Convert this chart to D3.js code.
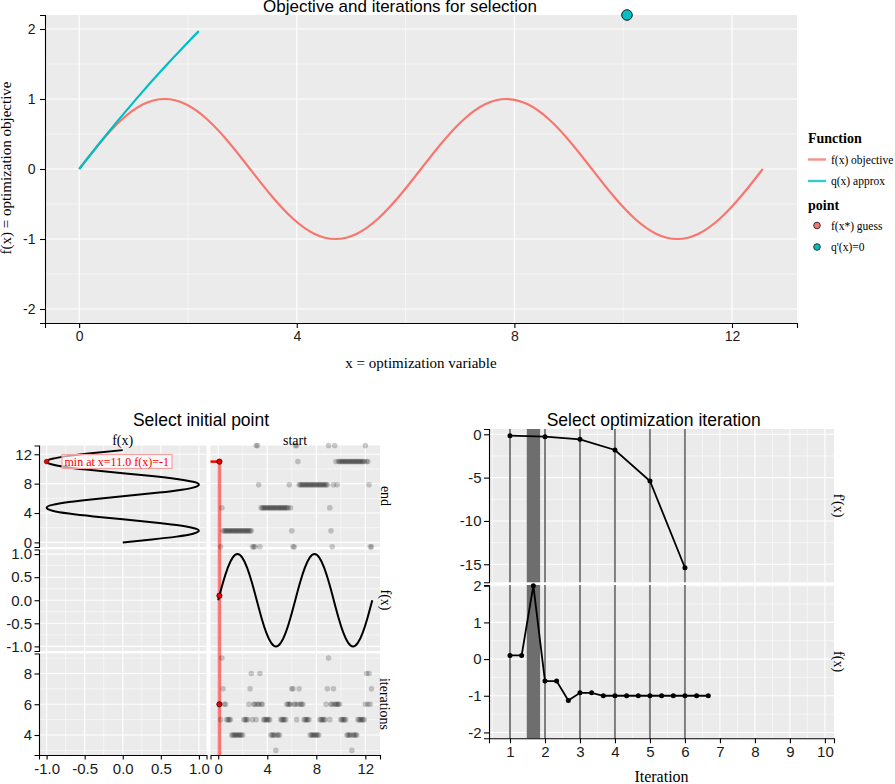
<!DOCTYPE html>
<html><head><meta charset="utf-8">
<script src="https://cdn.jsdelivr.net/npm/d3@7"></script>
<style>body{margin:0;background:#fff}svg{display:block}</style>
</head><body>
<svg id="chart" width="895" height="784"></svg>
<script>
// ---------------- DATA ----------------
// objective f(x) sampled at k*pi/8
const curveX = [0,0.393,0.785,1.178,1.571,1.963,2.356,2.749,3.142,3.534,3.927,4.320,4.712,5.105,5.498,5.890,6.283,6.676,7.069,7.461,7.854,8.247,8.639,9.032,9.425,9.817,10.210,10.603,10.996,11.388,11.781,12.174,12.566];
const curveF = [0,0.383,0.707,0.924,1,0.924,0.707,0.383,0,-0.383,-0.707,-0.924,-1,-0.924,-0.707,-0.383,0,0.383,0.707,0.924,1,0.924,0.707,0.383,0,-0.383,-0.707,-0.924,-1,-0.924,-0.707,-0.383,0];
// quadratic approximation q(x)
const approxX = [0,0.5,1.0,1.5,2.0,2.2];
const approxQ = [0,0.49,0.955,1.395,1.81,1.97];
// q'(x)=0 point
const stationX = 10.07, stationQ = 2.2;
// selection
const selStart = 0.1, selF = 0.1, selEnd = 11.0, selIter = 6;
const minLabel = "min at x=11.0 f(x)=-1";
const minF = -1, minX = 11.0;
// initial-point scan
const initStart = [0.1,0.2,0.3,0.4,0.5,0.6,0.7,0.8,0.9,1.0,
1.1,1.2,1.3,1.4,1.5,1.6,1.7,1.8,1.9,2.0,
2.1,2.2,2.3,2.4,2.5,2.6,2.7,2.8,2.9,3.0,
3.1,3.2,3.3,3.4,3.5,3.6,3.7,3.8,3.9,4.0,
4.1,4.2,4.3,4.4,4.5,4.6,4.7,4.8,4.9,5.0,
5.1,5.2,5.3,5.4,5.5,5.6,5.7,5.8,5.9,6.0,
6.1,6.2,6.3,6.4,6.5,6.6,6.7,6.8,6.9,7.0,
7.1,7.2,7.3,7.4,7.5,7.6,7.7,7.8,7.9,8.0,
8.1,8.2,8.3,8.4,8.5,8.6,8.7,8.8,8.9,9.0,
9.1,9.2,9.3,9.4,9.5,9.6,9.7,9.8,9.9,10.0,
10.1,10.2,10.3,10.4,10.5,10.6,10.7,10.8,10.9,11.0,
11.1,11.2,11.3,11.4,11.5,11.6,11.7,11.8,11.9,12.0,
12.1,12.2,12.3,12.4,12.5];
const initEnd = [11.0,-0.6,4.71,1.57,1.57,1.57,1.57,1.57,1.57,1.57,
1.57,1.57,1.57,1.57,1.57,1.57,1.57,1.57,1.57,1.57,
1.57,1.57,1.57,1.57,1.57,1.57,1.57,-0.6,-0.6,-0.6,
13.2,13.2,7.85,-0.6,4.71,4.71,4.71,4.71,4.71,4.71,
4.71,4.71,4.71,4.71,4.71,4.71,4.71,4.71,4.71,4.71,
4.71,4.71,4.71,4.71,4.71,4.71,4.71,7.85,4.71,1.57,
-0.6,-0.6,13.2,13.2,11.0,7.85,7.85,7.85,7.85,7.85,
7.85,7.85,7.85,7.85,7.85,7.85,7.85,7.85,7.85,7.85,
7.85,7.85,7.85,7.85,7.85,7.85,7.85,7.85,7.85,13.2,
4.71,1.57,-0.6,7.85,13.2,11.0,7.85,11.0,11.0,11.0,
11.0,11.0,11.0,11.0,11.0,11.0,11.0,11.0,11.0,11.0,
11.0,11.0,11.0,11.0,11.0,11.0,11.0,11.0,11.0,13.2,
11.0,11.0,7.85,-0.6,-0.6];
const initIter = [6,5,9,7,6,6,5,5,5,5,
4,4,4,4,4,4,4,4,4,4,
5,5,5,5,6,7,8,5,6,6,
5,6,6,8,6,6,5,5,5,5,
5,5,4,4,4,4,3,4,4,4,
5,5,5,5,5,6,6,6,6,7,
7,6,6,5,6,7,6,6,6,5,
5,5,5,5,4,4,4,4,4,4,
4,4,5,5,5,5,5,6,7,9,
5,6,6,7,6,6,6,6,6,5,
5,5,5,5,4,4,4,4,3,4,
4,4,4,5,5,5,5,5,5,6,
8,6,8,6,7];
// optimization iterations
const iterMarks = [1,2,3,4,5,6];
const gradY = [-0.16,-0.28,-0.58,-1.81,-5.39,-15.4];
const stepX = [1,1.333,1.667,2,2.333,2.667,3,3.333,3.667,4,4.333,4.667,5,5.333,5.667,6,6.333,6.667];
const stepF = [0.1,0.1,2.0,-0.6,-0.6,-1.13,-0.92,-0.92,-1,-1,-1,-1,-1,-1,-1,-1,-1,-1];
const selStep = [1.48, 1.86];

// ---------------- DRAW ----------------
const svg = d3.select("#chart");
const SANS = "'Liberation Sans', Arial, Helvetica, sans-serif";
const SERIF = "'Liberation Serif', 'Times New Roman', Times, serif";
const BG = "#EBEBEB", RED = "#F8766D", TEAL = "#00BFC4";

function panel(x, y, xMaj, xMin, yMaj, yMin) {
  const [x0, x1] = x.range(); const [y1, y0] = y.range();
  const g = svg.append("g");
  g.append("rect").attr("x", x0).attr("y", y0).attr("width", x1 - x0).attr("height", y1 - y0).attr("fill", BG);
  const vl = (arr, w) => g.selectAll(null).data(arr).join("line")
    .attr("x1", d => x(d)).attr("x2", d => x(d)).attr("y1", y0).attr("y2", y1)
    .attr("stroke", "#fff").attr("stroke-width", w);
  const hl = (arr, w) => g.selectAll(null).data(arr).join("line")
    .attr("y1", d => y(d)).attr("y2", d => y(d)).attr("x1", x0).attr("x2", x1)
    .attr("stroke", "#fff").attr("stroke-width", w);
  vl(xMin, 0.55); hl(yMin, 0.55); vl(xMaj, 1.1); hl(yMaj, 1.1);
  return g;
}
function styleAxis(g, size) {
  g.attr("font-family", SANS).attr("font-size", size);
  g.select(".domain").attr("stroke", "#000").attr("stroke-width", 1.1);
  g.selectAll(".tick line").attr("stroke", "#000").attr("stroke-width", 1.1);
  g.selectAll(".tick text").attr("fill", "#1a1a1a");
}
function leftAxis(scale, xpos, ticks, fmt, size, tl, pad) {
  const g = svg.append("g").attr("transform", `translate(${xpos},0)`)
    .call(d3.axisLeft(scale).tickValues(ticks).tickFormat(fmt).tickSize(tl).tickSizeOuter(tl).tickPadding(pad));
  styleAxis(g, size);
}
function bottomAxis(scale, ypos, ticks, fmt, size, tl, pad) {
  const g = svg.append("g").attr("transform", `translate(0,${ypos})`)
    .call(d3.axisBottom(scale).tickValues(ticks).tickFormat(fmt).tickSize(tl).tickSizeOuter(tl).tickPadding(pad));
  styleAxis(g, size);
}
function text(x, y, s, opts) {
  const t = svg.append("text").attr("x", x).attr("y", y).text(s)
    .attr("font-family", opts.family || SANS).attr("font-size", opts.size || 14)
    .attr("fill", opts.fill || "#000").attr("text-anchor", opts.anchor || "start");
  if (opts.weight) t.attr("font-weight", opts.weight);
  return t;
}
function vtext(x, y, s, angle, size) {
  svg.append("text").attr("transform", `translate(${x},${y}) rotate(${angle})`)
    .attr("text-anchor", "middle").attr("dominant-baseline", "central")
    .attr("font-family", SERIF).attr("font-size", size).text(s);
}
const fmtStr = d => String(d);
const fmt1 = d3.format(".1f");
const fmtH = d => fmt1(d).replace("\u2212", "-");
const fmtI = d => String(d).replace("\u2212", "-");

// ===== Top chart =====
const tx = d3.scaleLinear([-0.628, 13.195], [45, 797]);
const ty = d3.scaleLinear([-2.2, 2.2], [323, 15]);
panel(tx, ty, [0, 4, 8, 12], [2, 6, 10], [-2, -1, 0, 1, 2], [-1.5, -0.5, 0.5, 1.5]);
const lineF = d3.line().x((d, i) => tx(curveX[i])).y(d => ty(d)).curve(d3.curveNatural);
svg.append("path").attr("d", lineF(curveF)).attr("fill", "none").attr("stroke", RED).attr("stroke-width", 2.2);
const lineQ = d3.line().x((d, i) => tx(approxX[i])).y(d => ty(d)).curve(d3.curveNatural);
svg.append("path").attr("d", lineQ(approxQ)).attr("fill", "none").attr("stroke", TEAL).attr("stroke-width", 2.2);
leftAxis(ty, 45, [-2, -1, 0, 1, 2], fmtI, 14, 5, 4.5);
bottomAxis(tx, 323, [0, 4, 8, 12], fmtStr, 14, 5, 3.5);
svg.append("circle").attr("cx", tx(stationX)).attr("cy", ty(stationQ)).attr("r", 5.3)
  .attr("fill", TEAL).attr("stroke", "#1a1a1a").attr("stroke-width", 1);
text(400, 12, "Objective and iterations for selection", { size: 17, anchor: "middle" });
vtext(6, 168, "f(x) = optimization objective", -90, 15);
text(421, 368, "x = optimization variable", { family: SERIF, size: 15, anchor: "middle" });
// legend
text(808, 143, "Function", { family: SERIF, size: 14, weight: "bold" });
svg.append("line").attr("x1", 808).attr("x2", 826).attr("y1", 159.5).attr("y2", 159.5).attr("stroke", RED).attr("stroke-width", 2.4).attr("opacity", 0.8);
text(831, 163.5, "f(x) objective", { family: SERIF, size: 11.5 });
svg.append("line").attr("x1", 808).attr("x2", 826).attr("y1", 181).attr("y2", 181).attr("stroke", TEAL).attr("stroke-width", 2.4).attr("opacity", 0.8);
text(831, 185, "q(x) approx", { family: SERIF, size: 11.5 });
text(808, 209.5, "point", { family: SERIF, size: 14, weight: "bold" });
svg.append("circle").attr("cx", 817).attr("cy", 225.5).attr("r", 3.3).attr("fill", RED).attr("stroke", "#333");
text(831, 229.5, "f(x*) guess", { family: SERIF, size: 11.5 });
svg.append("circle").attr("cx", 817).attr("cy", 247).attr("r", 3.3).attr("fill", TEAL).attr("stroke", "#333");
text(831, 251, "q'(x)=0", { family: SERIF, size: 11.5 });

// ===== Bottom-left: Select initial point =====
const xL = d3.scaleLinear([-1.1, 1.1], [39, 206.5]);
const xR = d3.scaleLinear([-0.628, 13.195], [210.5, 380]);
const y1 = d3.scaleLinear([-0.628, 13.195], [547, 445.5]);
const y2 = d3.scaleLinear([-1.1, 1.1], [651, 549.5]);
const y3 = d3.scaleLinear([2.7, 9.3], [755, 653.5]);
const xLMaj = [-1, -0.5, 0, 0.5, 1], xLMin = [-0.75, -0.25, 0.25, 0.75];
const xRMaj = [0, 4, 8, 12], xRMin = [2, 6, 10];
const y1Maj = [0, 4, 8, 12], y1Min = [2, 6, 10];
const y2Maj = [-1, -0.5, 0, 0.5, 1], y2Min = [-0.75, -0.25, 0.25, 0.75];
const y3Maj = [4, 6, 8], y3Min = [3, 5, 7, 9];
panel(xL, y1, xLMaj, xLMin, y1Maj, y1Min);
panel(xR, y1, xRMaj, xRMin, y1Maj, y1Min);
panel(xL, y2, xLMaj, xLMin, y2Maj, y2Min);
panel(xR, y2, xRMaj, xRMin, y2Maj, y2Min);
panel(xL, y3, xLMaj, xLMin, y3Maj, y3Min);
panel(xR, y3, xRMaj, xRMin, y3Maj, y3Min);

// selection band
svg.append("line").attr("x1", xR(selStart)).attr("x2", xR(selStart)).attr("y1", y1(selEnd)).attr("y2", y3.range()[0])
  .attr("stroke", "#ff0000").attr("stroke-opacity", 0.5).attr("stroke-width", 3.5);
// top-left: rotated objective
const lineRot = d3.line().x(d => xL(d)).y((d, i) => y1(curveX[i])).curve(d3.curveNatural);
svg.append("path").attr("d", lineRot(curveF)).attr("fill", "none").attr("stroke", "#000").attr("stroke-width", 2);
svg.append("circle").attr("cx", xL(minF)).attr("cy", y1(minX)).attr("r", 2.4).attr("fill", "#e00").attr("stroke", "#600").attr("stroke-width", 0.6);
svg.append("rect").attr("x", 62).attr("y", 454.5).attr("width", 110).attr("height", 14).attr("fill", "#fff").attr("fill-opacity", 0.65)
  .attr("stroke", "#F4A3A3").attr("stroke-width", 1.2);
text(64.5, 465.5, minLabel, { family: SERIF, size: 12, fill: "#f00" });
// start vs end
svg.append("line").attr("x1", xR.range()[0]).attr("x2", xR(selStart)).attr("y1", y1(selEnd)).attr("y2", y1(selEnd))
  .attr("stroke", "#f00").attr("stroke-width", 2.5);
svg.append("g").selectAll("circle").data(initStart).join("circle")
  .attr("cx", d => xR(d)).attr("cy", (d, i) => y1(initEnd[i])).attr("r", 2.8).attr("fill", "#000").attr("fill-opacity", 0.2);
svg.append("circle").attr("cx", xR(selStart)).attr("cy", y1(selEnd)).attr("r", 2.6).attr("fill", "#e00").attr("stroke", "#300").attr("stroke-width", 0.8);
// f(x) curve
const lineR = d3.line().x((d, i) => xR(curveX[i])).y(d => y2(d)).curve(d3.curveNatural);
svg.append("path").attr("d", lineR(curveF)).attr("fill", "none").attr("stroke", "#000").attr("stroke-width", 2);
svg.append("circle").attr("cx", xR(selStart)).attr("cy", y2(selF)).attr("r", 2.6).attr("fill", "#e00").attr("stroke", "#300").attr("stroke-width", 0.8);
// start vs iterations
svg.append("g").selectAll("circle").data(initStart).join("circle")
  .attr("cx", d => xR(d)).attr("cy", (d, i) => y3(initIter[i])).attr("r", 2.8).attr("fill", "#000").attr("fill-opacity", 0.2);
svg.append("circle").attr("cx", xR(selStart)).attr("cy", y3(selIter)).attr("r", 2.6).attr("fill", "#e00").attr("stroke", "#300").attr("stroke-width", 0.8);
// axes
leftAxis(y1, 39, y1Maj, fmtStr, 15, 4.5, 2.5);
leftAxis(y2, 39, y2Maj, fmtH, 15, 4.5, 2.5);
leftAxis(y3, 39, y3Maj, fmtStr, 15, 4.5, 2.5);
bottomAxis(xL, 755, xLMaj, fmtH, 15, 4.5, 3.5);
bottomAxis(xR, 755, xRMaj, fmtStr, 15, 4.5, 3.5);
// strips
text(122.7, 445, "f(x)", { family: SERIF, size: 14, anchor: "middle" });
text(295, 445, "start", { family: SERIF, size: 14, anchor: "middle" });
vtext(385, 496, "end", 90, 14);
vtext(385, 600, "f(x)", 90, 14);
vtext(384, 704, "iterations", 90, 14);
text(201, 426, "Select initial point", { size: 17.5, anchor: "middle" });

// ===== Bottom-right: Select optimization iteration =====
const xI = d3.scaleLinear([0.4, 10.26], [489, 834]);
const yT = d3.scaleLinear([-17.08, 0.61], [582.3, 429]);
const yB = d3.scaleLinear([-2.16, 2.02], [738.3, 585]);
const xIMaj = [1, 2, 3, 4, 5, 6, 7, 8, 9, 10], xIMin = [0.5, 1.5, 2.5, 3.5, 4.5, 5.5, 6.5, 7.5, 8.5, 9.5];
const yTMaj = [0, -5, -10, -15], yTMin = [-2.5, -7.5, -12.5];
const yBMaj = [-2, -1, 0, 1, 2], yBMin = [-1.5, -0.5, 0.5, 1.5];
[[yT, yTMaj, yTMin], [yB, yBMaj, yBMin]].forEach(([ys, mj, mn]) => {
  const g = panel(xI, ys, xIMaj, xIMin, mj, mn);
  const [b, t] = ys.range();
  g.selectAll(null).data(iterMarks).join("line").attr("x1", d => xI(d)).attr("x2", d => xI(d))
    .attr("y1", t).attr("y2", b).attr("stroke", "#7f7f7f").attr("stroke-width", 2);
  g.append("rect").attr("x", xI(selStep[0])).attr("width", xI(selStep[1]) - xI(selStep[0]))
    .attr("y", t).attr("height", b - t).attr("fill", "#6e6e6e");
});
const lineT = d3.line().x((d, i) => xI(iterMarks[i])).y(d => yT(d));
svg.append("path").attr("d", lineT(gradY)).attr("fill", "none").attr("stroke", "#000").attr("stroke-width", 1.8);
svg.append("g").selectAll("circle").data(gradY).join("circle").attr("cx", (d, i) => xI(iterMarks[i])).attr("cy", d => yT(d)).attr("r", 2.5);
const lineB = d3.line().x((d, i) => xI(stepX[i])).y(d => yB(d));
svg.append("path").attr("d", lineB(stepF)).attr("fill", "none").attr("stroke", "#000").attr("stroke-width", 1.8);
svg.append("g").selectAll("circle").data(stepF).join("circle").attr("cx", (d, i) => xI(stepX[i])).attr("cy", d => yB(d)).attr("r", 2.5);
leftAxis(yT, 489, yTMaj, fmtI, 15, 5, 2.5);
leftAxis(yB, 489, yBMaj, fmtI, 15, 5, 2.5);
bottomAxis(xI, 738.3, xIMaj, fmtStr, 15, 5, 3.5);
vtext(838, 505.6, "f'(x)", 90, 14);
vtext(838, 661.6, "f(x)", 90, 14);
text(653.7, 426, "Select optimization iteration", { size: 17.5, anchor: "middle" });
text(661.5, 782, "Iteration", { family: SERIF, size: 16, anchor: "middle" });
</script>
</body></html>
